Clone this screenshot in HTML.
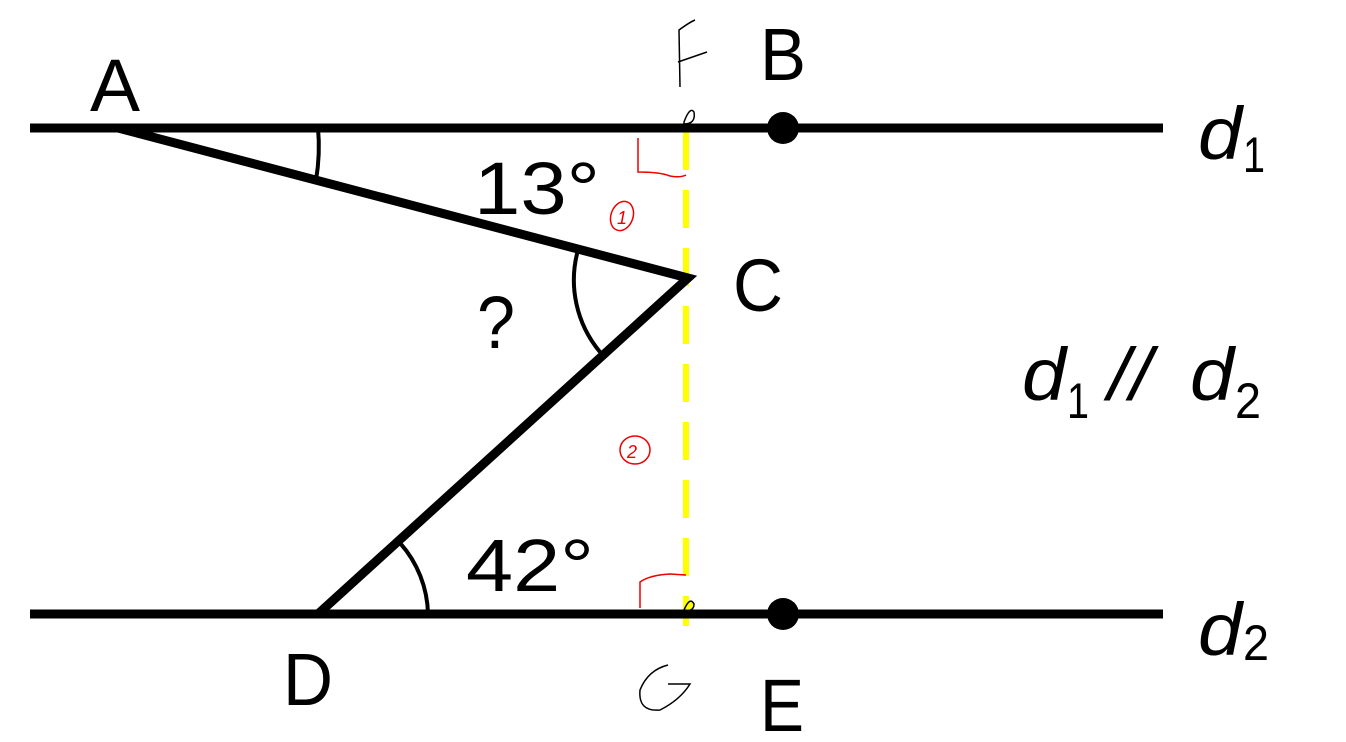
<!DOCTYPE html>
<html><head><style>body{margin:0;background:#fff}svg{display:block}</style></head>
<body>
<svg width="1346" height="742" viewBox="0 0 1346 742" xmlns="http://www.w3.org/2000/svg" font-family="Liberation Sans, sans-serif">
<rect width="1346" height="742" fill="#fff"/>
<line x1="686" y1="132" x2="686" y2="626" stroke="#ffff00" stroke-width="6" stroke-dasharray="38,20"/>
<line x1="30" y1="128" x2="1163" y2="128" stroke="#000" stroke-width="9"/>
<line x1="30" y1="614" x2="1163" y2="614" stroke="#000" stroke-width="9"/>
<polyline points="118,128 688,278 318,614" fill="none" stroke="#000" stroke-width="9" stroke-linejoin="miter"/>
<circle cx="783" cy="128" r="16" fill="#000"/>
<circle cx="783" cy="614" r="16" fill="#000"/>
<path d="M 318 128 A 200 200 0 0 1 316 180" fill="none" stroke="#000" stroke-width="4"/>
<path d="M 578 250 A 112 112 0 0 0 600 352" fill="none" stroke="#000" stroke-width="4"/>
<path d="M 400 543 A 110 110 0 0 1 428 614" fill="none" stroke="#000" stroke-width="4"/>
<path d="M638 138 L638 172 Q660 172 670 176 Q680 178 686 175" fill="none" stroke="#e00" stroke-width="1.5"/>
<path d="M640 608 L640 582 Q650 575 670 574 L686 575" fill="none" stroke="#e00" stroke-width="1.5"/>
<ellipse cx="622" cy="216" rx="11" ry="15" fill="none" stroke="#e00" stroke-width="1.5" transform="rotate(20 622 216)"/>
<text x="617" y="224" font-size="18" font-style="italic" fill="#e00">1</text>
<ellipse cx="635" cy="450" rx="15" ry="14" fill="none" stroke="#e00" stroke-width="1.5"/>
<text x="627" y="458" font-size="18" font-style="italic" fill="#e00">2</text>
<path d="M680 87 L679 30 Q690 22 695 20 M678 62 L707 52" fill="none" stroke="#000" stroke-width="1.5"/>
<path d="M684 122 Q690 106 694 112 Q696 124 684 124 Z" fill="none" stroke="#000" stroke-width="1.5"/>
<path d="M684 610 Q690 596 694 604 Q694 612 684 610 Z" fill="#ff0" stroke="#000" stroke-width="1.5"/>
<path d="M668 665 Q648 670 640 690 Q638 712 660 710 Q680 700 690 684 L668 684" fill="none" stroke="#000" stroke-width="1.5"/>
<g font-size="74" fill="#000">
<text x="90" y="111" textLength="50" lengthAdjust="spacingAndGlyphs">A</text>
<text x="760" y="80" textLength="46" lengthAdjust="spacingAndGlyphs">B</text>
<text x="733" y="311" textLength="50" lengthAdjust="spacingAndGlyphs">C</text>
<text x="283" y="705" textLength="50" lengthAdjust="spacingAndGlyphs">D</text>
<text x="760" y="731" textLength="44" lengthAdjust="spacingAndGlyphs">E</text>
<text x="474" y="214" textLength="126" lengthAdjust="spacingAndGlyphs">13°</text>
<text x="477" y="348" textLength="38" lengthAdjust="spacingAndGlyphs">?</text>
<text x="466" y="591" textLength="128" lengthAdjust="spacingAndGlyphs">42°</text>
</g>
<g font-size="74" font-style="italic" fill="#000">
<text x="1198" y="159" textLength="44" lengthAdjust="spacingAndGlyphs">d</text>
<text x="1198" y="655" textLength="44" lengthAdjust="spacingAndGlyphs">d</text>
<text x="1022" y="400" textLength="44" lengthAdjust="spacingAndGlyphs">d</text>
<text x="1108" y="400" textLength="44" lengthAdjust="spacingAndGlyphs">//</text>
<text x="1190" y="400" textLength="44" lengthAdjust="spacingAndGlyphs">d</text>
</g>
<g font-size="50" fill="#000">
<text x="1243" y="172" textLength="22" lengthAdjust="spacingAndGlyphs">1</text>
<text x="1243" y="660" textLength="26" lengthAdjust="spacingAndGlyphs">2</text>
<text x="1067" y="418" textLength="22" lengthAdjust="spacingAndGlyphs">1</text>
<text x="1235" y="418" textLength="26" lengthAdjust="spacingAndGlyphs">2</text>
</g>
</svg>
</body></html>
